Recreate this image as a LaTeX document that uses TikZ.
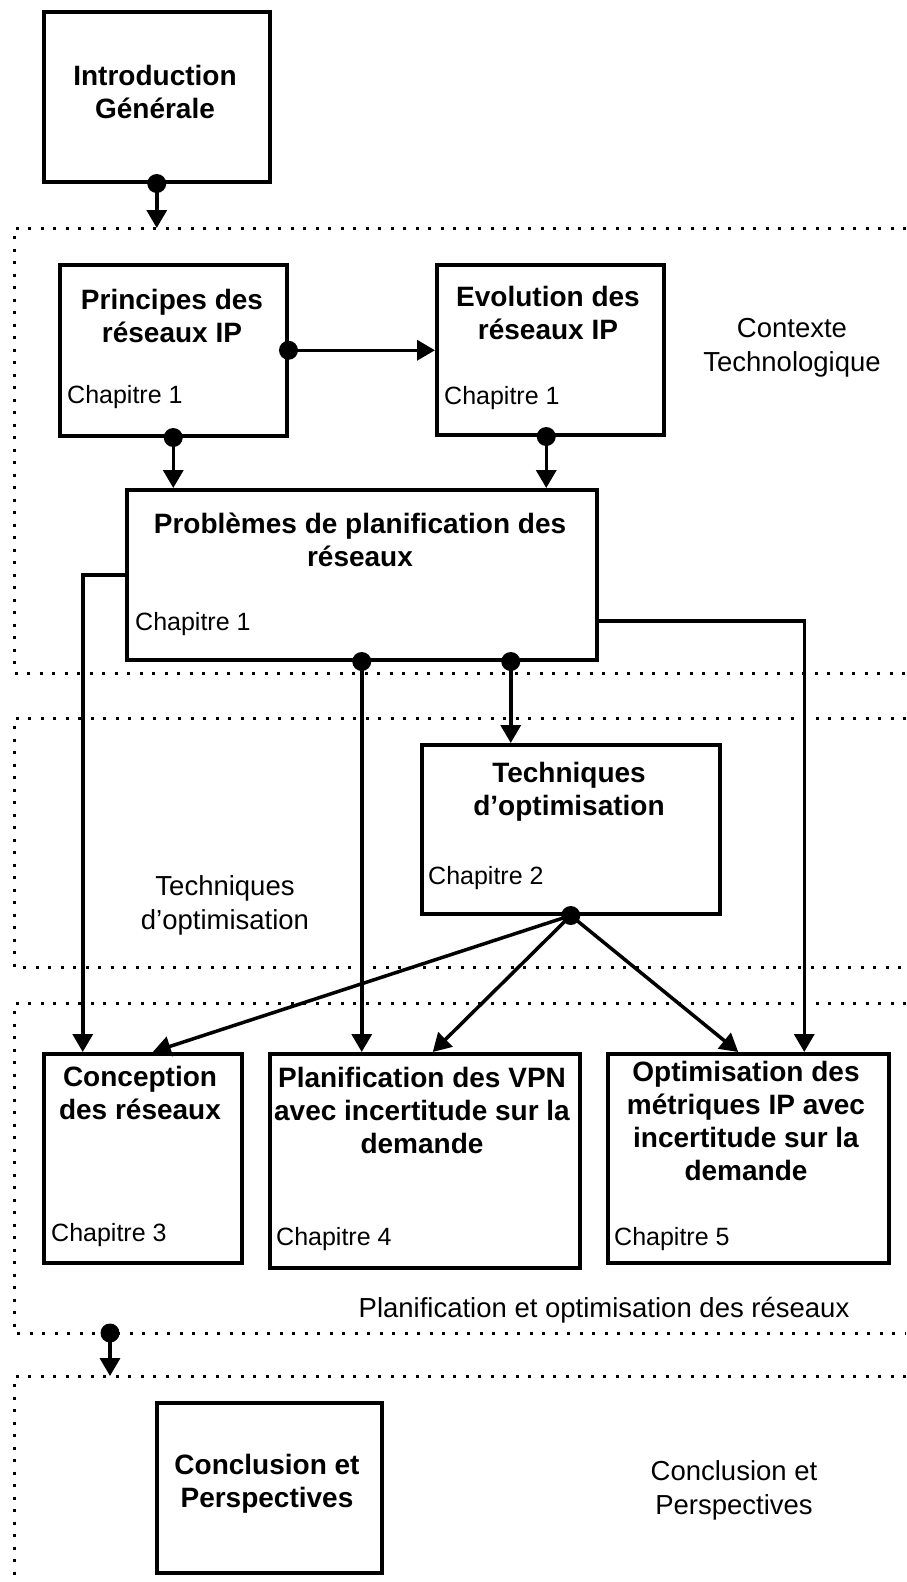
\documentclass[tikz,border=0pt]{standalone}
\usepackage{fontspec}
\setmainfont{Liberation Sans}
\usetikzlibrary{arrows.meta,calc}
\begin{document}
\begin{tikzpicture}[x=1pt,y=-1pt,
  box/.style={draw, line width=3.5pt, anchor=north west, inner sep=0pt, fill=white},
  title/.style={font=\fontsize{28}{33}\selectfont\bfseries, align=center},
  chap/.style={font=\fontsize{25}{28}\selectfont, anchor=west, inner sep=0pt},
  lbl/.style={font=\fontsize{27.5}{34}\selectfont, align=center},
  conn/.style={line width=3.5pt, -{Triangle[length=18pt,width=20pt]}},
  region/.style={line width=3pt, dash pattern=on 3pt off 9.5pt},
  dotr/.style={fill=black}
]
\useasboundingbox[fill=white] (0,0) rectangle (906,1582);

% dotted regions
\draw[region] (906,228) -- (14,228) -- (14,673) -- (906,673);
\draw[region] (906,718) -- (14,718) -- (14,967) -- (906,967);
\draw[region] (906,1003) -- (14,1003) -- (14,1333) -- (906,1333);
\draw[region] (906,1376) -- (14,1376) -- (14,1582);
\coordinate (r1t) at (0,228);
\coordinate (r3b) at (110,1333);
\coordinate (r4t) at (110,1376);

% boxes
\node[box, minimum width=226pt, minimum height=170pt] (intro) at (42,10) {};
\node[box, minimum width=227pt, minimum height=171pt] (princ) at (58,263) {};
\node[box, minimum width=227pt, minimum height=170pt] (evol) at (435,263) {};
\node[box, minimum width=470pt, minimum height=170pt] (prob) at (125,488) {};
\node[box, minimum width=298pt, minimum height=169pt] (techn) at (420,743) {};
\node[box, minimum width=198pt, minimum height=209pt] (concep) at (42,1052) {};
\node[box, minimum width=310pt, minimum height=214pt] (planif) at (268,1052) {};
\node[box, minimum width=281pt, minimum height=209pt] (optim) at (606,1052) {};
\node[box, minimum width=225pt, minimum height=170pt] (concl) at (155,1401) {};

% titles
\node[title] (tintro) at (155,92) {Introduction\\Générale};
\node[title] (tprinc) at (172,316) {Principes des\\réseaux IP};
\node[title] (tevol) at (548,313) {Evolution des\\réseaux IP};
\node[title] (tprob) at (360,540) {Problèmes de planification des\\réseaux};
\node[title] (ttechn) at (569,792) {Techniques\\d’optimisation};
\node[title] (tconcep) at (140,1093) {Conception\\des réseaux};
\node[title] (tplanif) at (422,1110) {Planification des VPN\\avec incertitude sur la\\demande};
\node[title] (toptim) at (746,1121) {Optimisation des\\métriques IP avec\\incertitude sur la\\demande};
\node[title] (tconcl) at (267,1484) {Conclusion et\\Perspectives};

% chapter labels
\node[chap] (c1) at (67,397) {Chapitre 1};
\node[chap] (c2) at (444,398) {Chapitre 1};
\node[chap] (c3) at (135,624) {Chapitre 1};
\node[chap] (c4) at (428,878) {Chapitre 2};
\node[chap] (c5) at (51,1235) {Chapitre 3};
\node[chap] (c6) at (276,1239) {Chapitre 4};
\node[chap] (c7) at (614,1239) {Chapitre 5};

% region labels
\node[lbl] (l1) at (792,348) {Contexte\\Technologique};
\node[lbl] (l2) at (225,905) {Techniques\\d’optimisation};
\node[lbl] (l3) at (604,1310) {Planification et optimisation des réseaux};
\node[lbl] (l4) at (734,1490) {Conclusion et\\Perspectives};

% connectors
\draw[conn] (intro.south) -- (intro.south |- r1t);
\draw[conn] (princ.east) -- (princ.east -| evol.west);
\draw[conn] (princ.south) -- (princ.south |- prob.north);
\draw[conn] ([xshift=-4pt]evol.south) -- ([xshift=-4pt]evol.south |- prob.north);
\draw[conn] (prob.west) -| ([xshift=-60pt]concep.north);
\draw[conn] ([yshift=-46pt]prob.east) -| ([xshift=56pt]optim.north);
\draw[conn] (prob.south) -- (prob.south |- planif.north);
\draw[conn] ([xshift=149pt]prob.south) -- ([xshift=149pt]prob.south |- techn.north);
\draw[conn] (techn.south) -- ([xshift=10pt]concep.north);
\draw[conn] (techn.south) -- ([xshift=8pt]planif.north);
\draw[conn] (techn.south) -- ([xshift=-10pt]optim.north);
\draw[conn] (r3b) -- (r4t);

% dots
\fill[dotr] (intro.south) circle (9.5pt);
\fill[dotr] (princ.east) circle (9.5pt);
\fill[dotr] (princ.south) circle (9.5pt);
\fill[dotr] ([xshift=-4pt]evol.south) circle (9.5pt);
\fill[dotr] (prob.south) circle (9.5pt);
\fill[dotr] ([xshift=149pt]prob.south) circle (9.5pt);
\fill[dotr] (techn.south) circle (9.5pt);
\fill[dotr] (r3b) circle (9.5pt);
\end{tikzpicture}
\end{document}
